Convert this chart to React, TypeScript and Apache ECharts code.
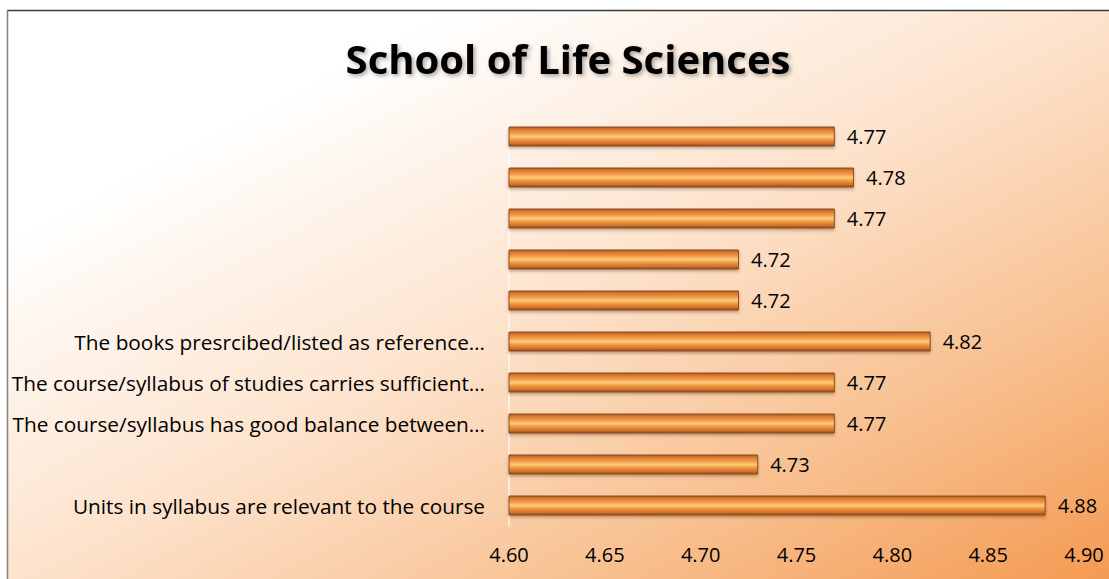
import React, { useEffect, useRef } from "react";
import * as echarts from "echarts";

const title = "School of Life Sciences";
const categories = [
  "Units in syllabus are relevant to the course",
  "",
  "The course/syllabus has good balance between…",
  "The course/syllabus of studies carries sufficient…",
  "The books presrcibed/listed as reference…",
  " ",
  "  ",
  "   ",
  "    ",
  "     ",
];
const values = [4.88, 4.73, 4.77, 4.77, 4.82, 4.72, 4.72, 4.77, 4.78, 4.77];
const axisMin = 4.6;
const axisMax = 4.9;
const axisInterval = 0.05;

export default function App() {
  const ref = useRef<HTMLDivElement>(null);
  useEffect(() => {
    document.body.style.margin = "0";
    const chart = echarts.init(ref.current!, null, { renderer: "svg" });
    const barGradient = new echarts.graphic.LinearGradient(0, 0, 0, 1, [
      { offset: 0, color: "#A85A22" },
      { offset: 0.12, color: "#D9782E" },
      { offset: 0.32, color: "#F09A48" },
      { offset: 0.5, color: "#FFCB78" },
      { offset: 0.68, color: "#EE9540" },
      { offset: 0.88, color: "#CC6E28" },
      { offset: 1, color: "#8A4818" },
    ]);
    const font = "Open Sans";
    chart.setOption({
      animation: false,
      textStyle: { fontFamily: font },
      graphic: [
        {
          type: "rect",
          shape: { x: 7, y: 10, width: 1102, height: 569 },
          style: {
            fill: new echarts.graphic.LinearGradient(0, 0, 1, 1, [
              { offset: 0, color: "#FFFFFF" },
              { offset: 0.2, color: "#FFFFFF" },
              { offset: 0.5, color: "#FDE3CD" },
              { offset: 0.75, color: "#F8C293" },
              { offset: 1, color: "#F49A52" },
            ]),
          },
          z: -10,
          silent: true,
        },
        {
          type: "line",
          shape: { x1: 7, y1: 10.5, x2: 1109, y2: 10.5 },
          style: { stroke: "#3a3a3a", lineWidth: 1.5 },
          silent: true,
        },
        {
          type: "line",
          shape: { x1: 7.5, y1: 10, x2: 7.5, y2: 579 },
          style: { stroke: "#808080", lineWidth: 1.5 },
          silent: true,
        },
      ],
      title: {
        text: title,
        left: 563,
        textAlign: "center",
        top: 33,
        textStyle: {
          fontFamily: font,
          fontWeight: "bold",
          fontSize: 40,
          color: "#000",
          textShadowColor: "rgba(0,0,0,0.35)",
          textShadowBlur: 4,
          textShadowOffsetX: 2,
          textShadowOffsetY: 2,
        },
      },
      grid: { left: 509, right: 25, top: 116, bottom: 53, containLabel: false },
      xAxis: {
        type: "value",
        min: axisMin,
        max: axisMax,
        interval: axisInterval,
        axisLine: { show: false },
        axisTick: { show: false },
        splitLine: { show: false },
        axisLabel: {
          formatter: (v: number) => v.toFixed(2),
          fontSize: 20,
          color: "#000",
          margin: 18,
          fontFamily: font,
        },
      },
      yAxis: {
        type: "category",
        data: categories,
        axisLine: { show: true, lineStyle: { color: "rgba(255,255,255,0.8)", width: 1.5 } },
        axisTick: { show: false },
        axisLabel: { fontSize: 20.8, color: "#000", margin: 24, fontFamily: font },
      },
      series: [
        {
          type: "bar",
          data: values,
          barWidth: 20,
          itemStyle: {
            color: barGradient,
            borderColor: "#8E4E1E",
            borderWidth: 1,
            shadowColor: "rgba(80,40,10,0.35)",
            shadowBlur: 3,
            shadowOffsetY: 2,
          },
          label: {
            show: true,
            position: "right",
            distance: 12,
            fontSize: 20,
            color: "#000",
            fontFamily: font,
            formatter: (p: any) => Number(p.value).toFixed(2),
          },
        },
      ],
    });
    return () => chart.dispose();
  }, []);
  return <div ref={ref} style={{ width: 1109, height: 579 }} />;
}
